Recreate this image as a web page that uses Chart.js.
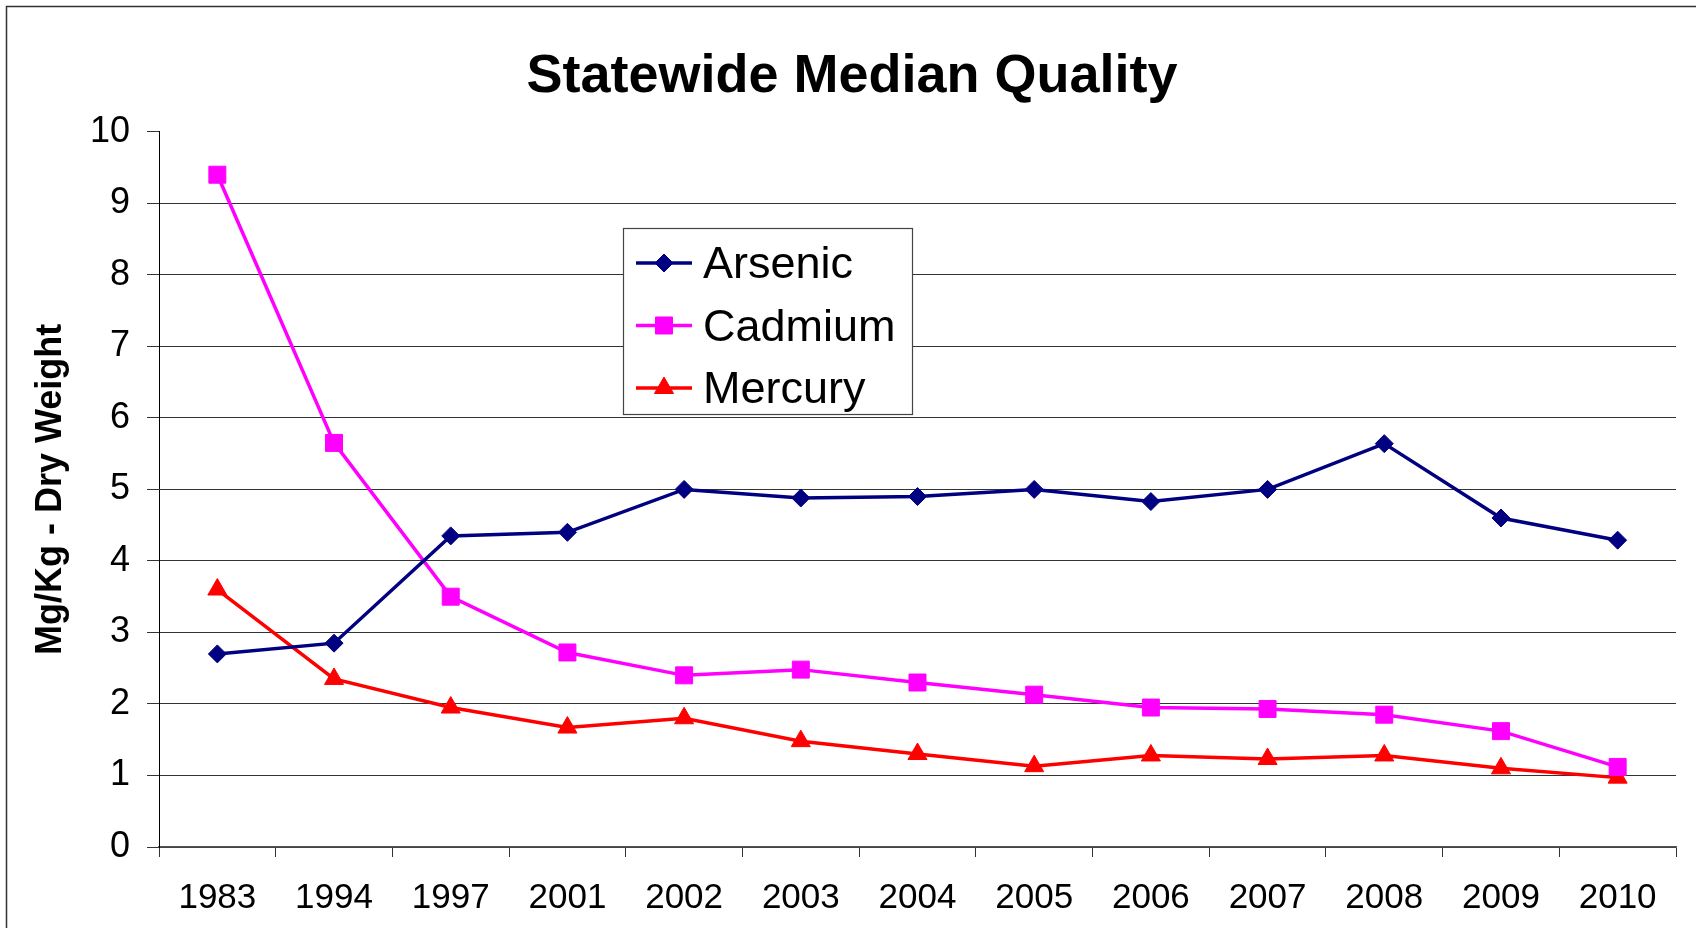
<!DOCTYPE html>
<html>
<head>
<meta charset="utf-8">
<script src="https://cdn.jsdelivr.net/npm/chart.js@4.4.1/dist/chart.umd.min.js"></script>
<style>
  html, body { margin: 0; padding: 0; background: #fff; overflow: hidden; }
  #wrap { position: relative; width: 1696px; height: 928px; }
</style>
</head>
<body>
<div id="wrap"><canvas id="chart_quality" width="1696" height="928"></canvas></div>
<script>
// values
const years = ['1983', '1994', '1997', '2001', '2002', '2003', '2004', '2005', '2006', '2007', '2008', '2009', '2010'];
const arsenic = [2.7, 2.85, 4.35, 4.4, 5.0, 4.88, 4.9, 5.0, 4.83, 5.0, 5.64, 4.6, 4.29];
const cadmium = [9.4, 5.65, 3.5, 2.72, 2.4, 2.48, 2.3, 2.13, 1.95, 1.93, 1.85, 1.62, 1.12];
const mercury = [3.6, 2.35, 1.95, 1.67, 1.8, 1.48, 1.3, 1.13, 1.28, 1.23, 1.28, 1.1, 0.97];
const yMin = 0, yMax = 10, yStep = 1;

const FONT = "'Liberation Sans', Arial, sans-serif";

// outer frame of the picture
const frame = {
    id: 'frame',
    beforeDraw(chart) {
        const ctx = chart.ctx;
        ctx.save();
        ctx.strokeStyle = '#333';
        ctx.lineWidth = 1.5;
        ctx.strokeRect(6.5, 6.5, 1800, 1800);
        ctx.restore();
    }
};

// legend box sitting inside the plot
const boxLegend = {
    id: 'boxLegend',
    afterDraw(chart) {
        const ctx = chart.ctx;
        ctx.save();
        ctx.fillStyle = '#fff';
        ctx.fillRect(623, 228, 289, 186);
        ctx.strokeStyle = '#444';
        ctx.lineWidth = 1.2;
        ctx.strokeRect(623.5, 228.5, 289, 186);
        chart.data.datasets.forEach((ds, i) => {
            const y = 263 + i * 62.5;
            ctx.strokeStyle = ds.borderColor;
            ctx.lineWidth = ds.borderWidth;
            ctx.beginPath();
            ctx.moveTo(636, y);
            ctx.lineTo(692, y);
            ctx.stroke();
            ctx.fillStyle = ds.pointBackgroundColor;
            ctx.strokeStyle = ds.pointBorderColor;
            ctx.lineWidth = 1;
            Chart.helpers.drawPoint(ctx, {pointStyle: ds.pointStyle, radius: ds.pointRadius, borderWidth: 1, rotation: 0}, 664, y);
            ctx.fillStyle = '#000';
            ctx.font = '45px ' + FONT;
            ctx.textAlign = 'left';
            ctx.textBaseline = 'middle';
            ctx.fillText(ds.label, 703, y + 3);
        });
        ctx.restore();
    }
};

function series(label, data, color, style, radius) {
    return {
        label: label,
        data: data,
        borderColor: color,
        backgroundColor: color,
        borderWidth: 3.5,
        pointStyle: style,
        pointRadius: radius,
        pointHoverRadius: radius,
        pointBackgroundColor: color,
        pointBorderColor: color,
        pointBorderWidth: 1,
        tension: 0,
        fill: false
    };
}

new Chart('chart_quality', {
    type: 'line',
    data: {
        labels: years,
        datasets: [
            series('Arsenic', arsenic, '#000080', 'rectRot', 9),
            series('Cadmium', cadmium, '#FF00FF', 'rect', 12),
            series('Mercury', mercury, '#FF0000', 'triangle', 11)
        ]
    },
    options: {
        responsive: false,
        animation: false,
        events: [],
        layout: {padding: {left: 28, right: 20, top: 0, bottom: 0}},
        plugins: {
            legend: {display: false},
            tooltip: {enabled: false},
            title: {
                display: true,
                text: 'Statewide Median Quality',
                color: '#000',
                font: {family: FONT, size: 54, weight: 'bold'},
                padding: {top: 45, bottom: 22}
            }
        },
        scales: {
            x: {
                offset: true,
                grid: {offset: true, drawOnChartArea: false, drawTicks: true, tickLength: 10, color: '#333', lineWidth: 1},
                border: {color: '#555', width: 1.5},
                ticks: {color: '#000', font: {family: FONT, size: 35}, padding: 20, maxRotation: 0, autoSkip: false},
                afterFit(scale) { scale.height = 81; }
            },
            y: {
                min: yMin,
                max: yMax,
                ticks: {stepSize: yStep, color: '#000', font: {family: FONT, size: 36}, padding: 17},
                grid: {
                    color: (c) => (c.tick && c.tick.value === yMax) ? 'rgba(0,0,0,0)' : '#333',
                    tickColor: '#333',
                    tickLength: 12,
                    lineWidth: 1
                },
                border: {color: '#000', width: 1},
                title: {
                    display: true,
                    text: 'Mg/Kg - Dry Weight',
                    color: '#000',
                    font: {family: FONT, size: 36, weight: 'bold', lineHeight: 1.2},
                    padding: {top: 1, bottom: 0}
                },
                afterFit(scale) { scale.width = 131; }
            }
        }
    },
    plugins: [frame, boxLegend]
});
</script>
</body>
</html>
